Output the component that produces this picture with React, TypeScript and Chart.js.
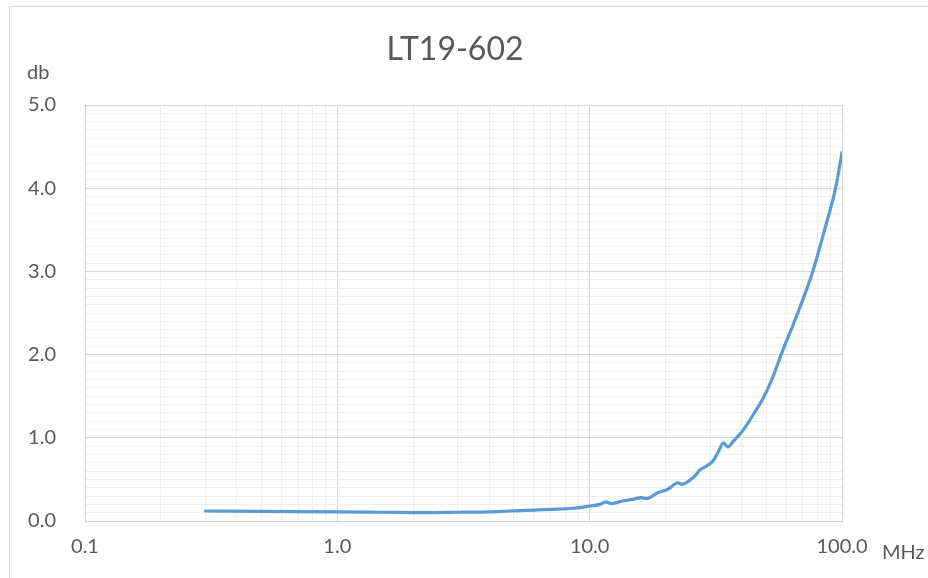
import React, { useEffect, useRef } from "react";
import { Chart, registerables } from "chart.js";

Chart.register(...registerables);

const TITLE = "LT19-602";
const Y_UNIT = "db";
const X_UNIT = "MHz";

const freqs: number[] = [
  0.3, 0.5, 1.0, 1.5, 2.2, 3.0, 4.0, 4.8, 6.0, 7.0, 8.3, 9.1, 10.0, 11.0, 11.6, 12.2,
  13.5, 14.8, 16.0, 16.8, 18.6, 20.4, 22.4, 23.1, 25.7, 27.3, 29.0, 30.8, 32.2, 33.9,
  35.3, 36.9, 40.5, 44.3, 48.6, 53.2, 57.4, 66.8, 76.6, 85.3, 94.3, 100,
];
const lossDb: number[] = [
  0.12, 0.115, 0.11, 0.105, 0.1, 0.105, 0.11, 0.12, 0.13, 0.14, 0.15, 0.16, 0.18, 0.2, 0.23, 0.21,
  0.24, 0.26, 0.28, 0.27, 0.34, 0.38, 0.46, 0.44, 0.52, 0.61, 0.66, 0.72, 0.82, 0.94,
  0.89, 0.95, 1.09, 1.27, 1.47, 1.73, 2.0, 2.5, 3.0, 3.5, 4.0, 4.43,
];
const xDecades: number[] = [0.1, 1, 10, 100];
const yMajor: number[] = [0, 1, 2, 3, 4, 5];

const FONT = "Lato, 'Open Sans', sans-serif";
const TEXT = "#595959";

const isMajorX = (v: number) => xDecades.some((d) => Math.abs(v - d) < d * 1e-6);
const isMajorY = (v: number) => yMajor.some((d) => Math.abs(v - d) < 1e-6);

const decor = {
  id: "decor",
  afterDraw(chart: any) {
    const { ctx, chartArea } = chart;
    ctx.save();
    ctx.strokeStyle = "#D9D9D9";
    ctx.lineWidth = 1;
    ctx.strokeRect(9.5, 6.5, 2000, 2000);
    ctx.fillStyle = TEXT;
    ctx.textBaseline = "middle";
    ctx.textAlign = "center";
    ctx.font = `32px ${FONT}`;
    ctx.fillText(TITLE, 455, 50);
    ctx.font = `20px ${FONT}`;
    ctx.textAlign = "left";
    ctx.fillText(Y_UNIT, 27, 73);
    ctx.fillText(X_UNIT, chartArea.right + 40, 553);
    ctx.restore();
  },
};

export default function App() {
  const ref = useRef<HTMLCanvasElement | null>(null);
  useEffect(() => {
    if (!ref.current) return;
    const minorX: number[] = [];
    for (const d of xDecades.slice(0, 3)) for (let k = 1; k <= 9; k++) minorX.push(d * k);
    minorX.push(100);
    const chart = new Chart(ref.current, {
      type: "line",
      data: {
        datasets: [
          {
            data: freqs.map((f, i) => ({ x: f, y: lossDb[i] })),
            borderColor: "#5B9BD5",
            borderWidth: 3.2,
            pointRadius: 0,
            cubicInterpolationMode: "monotone",
            fill: false,
            borderCapStyle: "round",
            borderJoinStyle: "round",
          },
        ],
      },
      options: {
        animation: false,
        responsive: true,
        maintainAspectRatio: false,
        layout: { padding: { top: 105, right: 86, left: 0, bottom: 0 } },
        plugins: { legend: { display: false }, tooltip: { enabled: false } },
        scales: {
          x: {
            type: "logarithmic",
            min: 0.1,
            max: 100,
            afterBuildTicks: (scale: any) => {
              scale.ticks = minorX.map((v) => ({ value: v }));
            },
            afterFit: (scale: any) => {
              scale.height = 57;
            },
            ticks: {
              autoSkip: false,
              maxRotation: 0,
              padding: 14,
              color: TEXT,
              font: { family: FONT, size: 20 },
              callback: (v: any) => (isMajorX(Number(v)) ? Number(v).toFixed(1) : ""),
            },
            grid: {
              drawTicks: false,
              color: (c: any) => (isMajorX(c.tick?.value ?? 0) ? "#D9D9D9" : "#EFEFEF"),
              lineWidth: 1,
            },
            border: { display: true, color: "#D0D0D0", width: 1 },
          },
          y: {
            min: 0,
            max: 5,
            afterFit: (scale: any) => {
              scale.width = 85;
            },
            ticks: {
              stepSize: 0.1,
              autoSkip: false,
              padding: 29,
              color: TEXT,
              font: { family: FONT, size: 20 },
              callback: (v: any) => (isMajorY(Number(v)) ? Number(v).toFixed(1) : ""),
            },
            grid: {
              drawTicks: false,
              color: (c: any) => (isMajorY(c.tick?.value ?? 0) ? "#D9D9D9" : "#EFEFEF"),
              lineWidth: 1,
            },
            border: { display: true, color: "#D0D0D0", width: 1 },
          },
        },
      },
      plugins: [decor],
    });
    return () => chart.destroy();
  }, []);
  return (
    <div style={{ position: "fixed", left: 0, top: 0, width: 928, height: 578, background: "#fff" }}>
      <canvas ref={ref} />
    </div>
  );
}
